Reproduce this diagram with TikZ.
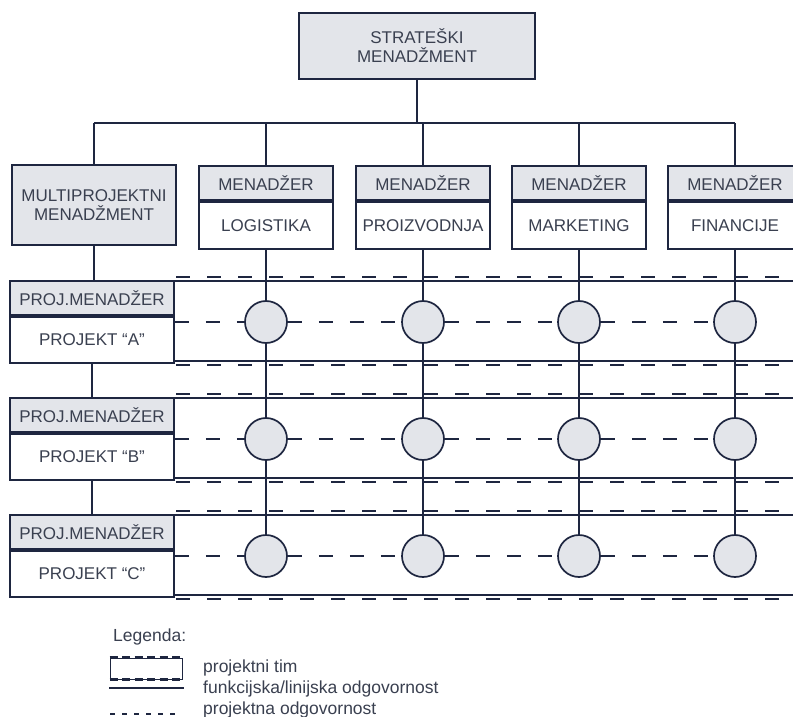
\documentclass[tikz,border=0pt]{standalone}
\usepackage{fontspec}
\setmainfont{Liberation Sans}
\definecolor{lc}{HTML}{1E2640}
\definecolor{bf}{HTML}{E3E5EA}
\definecolor{tc}{HTML}{3A4050}
\newcommand\diafont{\fontsize{17}{19}\selectfont}
\newcommand\lgfont{\fontsize{17.5}{19}\selectfont}
\begin{document}
\begin{tikzpicture}[x=1pt,y=-1pt,
  ln/.style={draw=lc, line width=1.7pt},
  dsh/.style={draw=lc, line width=2pt, dash pattern=on 14pt off 17pt},
  gbox/.style={draw=lc, line width=1.7pt, fill=bf, text=tc, font=\diafont, align=center, inner sep=0pt},
  wbox/.style={draw=lc, line width=1.7pt, fill=white, text=tc, font=\diafont, align=center, inner sep=0pt},
  hdr/.style={gbox, minimum width=134pt, minimum height=34pt},
  fbody/.style={wbox, minimum width=134pt, minimum height=47pt, anchor=north},
  phdr/.style={gbox, minimum width=164pt, minimum height=34pt},
  pbody/.style={wbox, minimum width=164pt, minimum height=46pt, anchor=north},
  crc/.style={circle, draw=lc, line width=1.7pt, fill=bf, minimum size=42pt, inner sep=0pt},
  lgtext/.style={anchor=base west, text=tc, font=\lgfont, inner sep=0pt}
]
\useasboundingbox[fill=white] (0,0) rectangle (793,717);

% top
\node[gbox, minimum width=236pt, minimum height=66pt] (strat) at (417,46) {STRATEŠKI\\MENADŽMENT};
\node[gbox, minimum width=164pt, minimum height=80pt] (multi) at (94,205) {MULTIPROJEKTNI\\MENADŽMENT};

% functional managers
\node[hdr] (logH) at (266,183) {MENADŽER};
\node[fbody] (logB) at (logH.south) {LOGISTIKA};
\node[hdr] (proH) at (423,183) {MENADŽER};
\node[fbody] (proB) at (proH.south) {PROIZVODNJA};
\node[hdr] (marH) at (579,183) {MENADŽER};
\node[fbody] (marB) at (marH.south) {MARKETING};
\node[hdr] (finH) at (735,183) {MENADŽER};
\node[fbody] (finB) at (finH.south) {FINANCIJE};

% bus
\coordinate (busL) at (94,123);
\coordinate (busR) at (735,123);
\draw[ln] (busL) -- (busR);
\draw[ln] (strat.south) -- (strat.south |- busL);
\foreach \n in {multi,logH,proH,marH,finH}{
  \draw[ln] (\n.north) -- (\n.north |- busL);
}

% project rows
\foreach \r/\t/\lab in {A/281/A, B/398/B, C/515/C}{
  \draw[ln] (174,\t) -- (800,\t);
  \draw[ln] (174,\t+80) -- (800,\t+80);
  \draw[dsh] (176,\t-4) -- (800,\t-4);
  \draw[dsh] (176,\t+84) -- (800,\t+84);
}
\node[phdr] (pAh) at (92,298) {PROJ.MENADŽER};
\node[pbody] (pA) at (pAh.south) {PROJEKT “A”};
\node[phdr] (pBh) at (92,415) {PROJ.MENADŽER};
\node[pbody] (pB) at (pBh.south) {PROJEKT “B”};
\node[phdr] (pCh) at (92,532) {PROJ.MENADŽER};
\node[pbody] (pC) at (pCh.south) {PROJEKT “C”};

\draw[ln] (multi.south) -- (multi.south |- pAh.north);
\draw[ln] (pA.south) -- (pBh.north);
\draw[ln] (pB.south) -- (pCh.north);

% circles
\foreach \r/\y in {A/322, B/439, C/556}{
  \node[crc] (c\r1) at (266,\y) {};
  \node[crc] (c\r2) at (423,\y) {};
  \node[crc] (c\r3) at (579,\y) {};
  \node[crc] (c\r4) at (735,\y) {};
  \draw[dsh] (c\r1.west -| p\r.east) -- (c\r1.west);
  \draw[dsh] (c\r1.east) -- (c\r2.west);
  \draw[dsh] (c\r2.east) -- (c\r3.west);
  \draw[dsh] (c\r3.east) -- (c\r4.west);
}
\foreach \i/\n in {1/logB,2/proB,3/marB,4/finB}{
  \draw[ln] (\n.south) -- (cA\i.north);
  \draw[ln] (cA\i.south) -- (cB\i.north);
  \draw[ln] (cB\i.south) -- (cC\i.north);
}

% legend
\node[lgtext] (leg) at (113,641) {Legenda:};
\node[draw=lc, line width=0.8pt, minimum width=72pt, minimum height=21pt, inner sep=0pt] (lgbox) at (146,668.5) {};
\draw[draw=lc, line width=2.4pt, dash pattern=on 8pt off 4.5pt] (lgbox.north west) -- (lgbox.north east);
\draw[draw=lc, line width=2.4pt, dash pattern=on 8pt off 4.5pt] (lgbox.south west) -- (lgbox.south east);
\coordinate (lsA) at (109,688);
\coordinate (lsB) at (184,688);
\draw[draw=lc, line width=1.2pt] (lsA) -- (lsB);
\coordinate (ldA) at (110,714);
\coordinate (ldB) at (177,714);
\draw[draw=lc, line width=1.2pt, dash pattern=on 5pt off 7pt] (ldA) -- (ldB);
\node[lgtext] (l1) at (203,672) {projektni tim};
\node[lgtext] (l2) at (203,693) {funkcijska/linijska odgovornost};
\node[lgtext] (l3) at (203,714) {projektna odgovornost};
\end{tikzpicture}
\end{document}
